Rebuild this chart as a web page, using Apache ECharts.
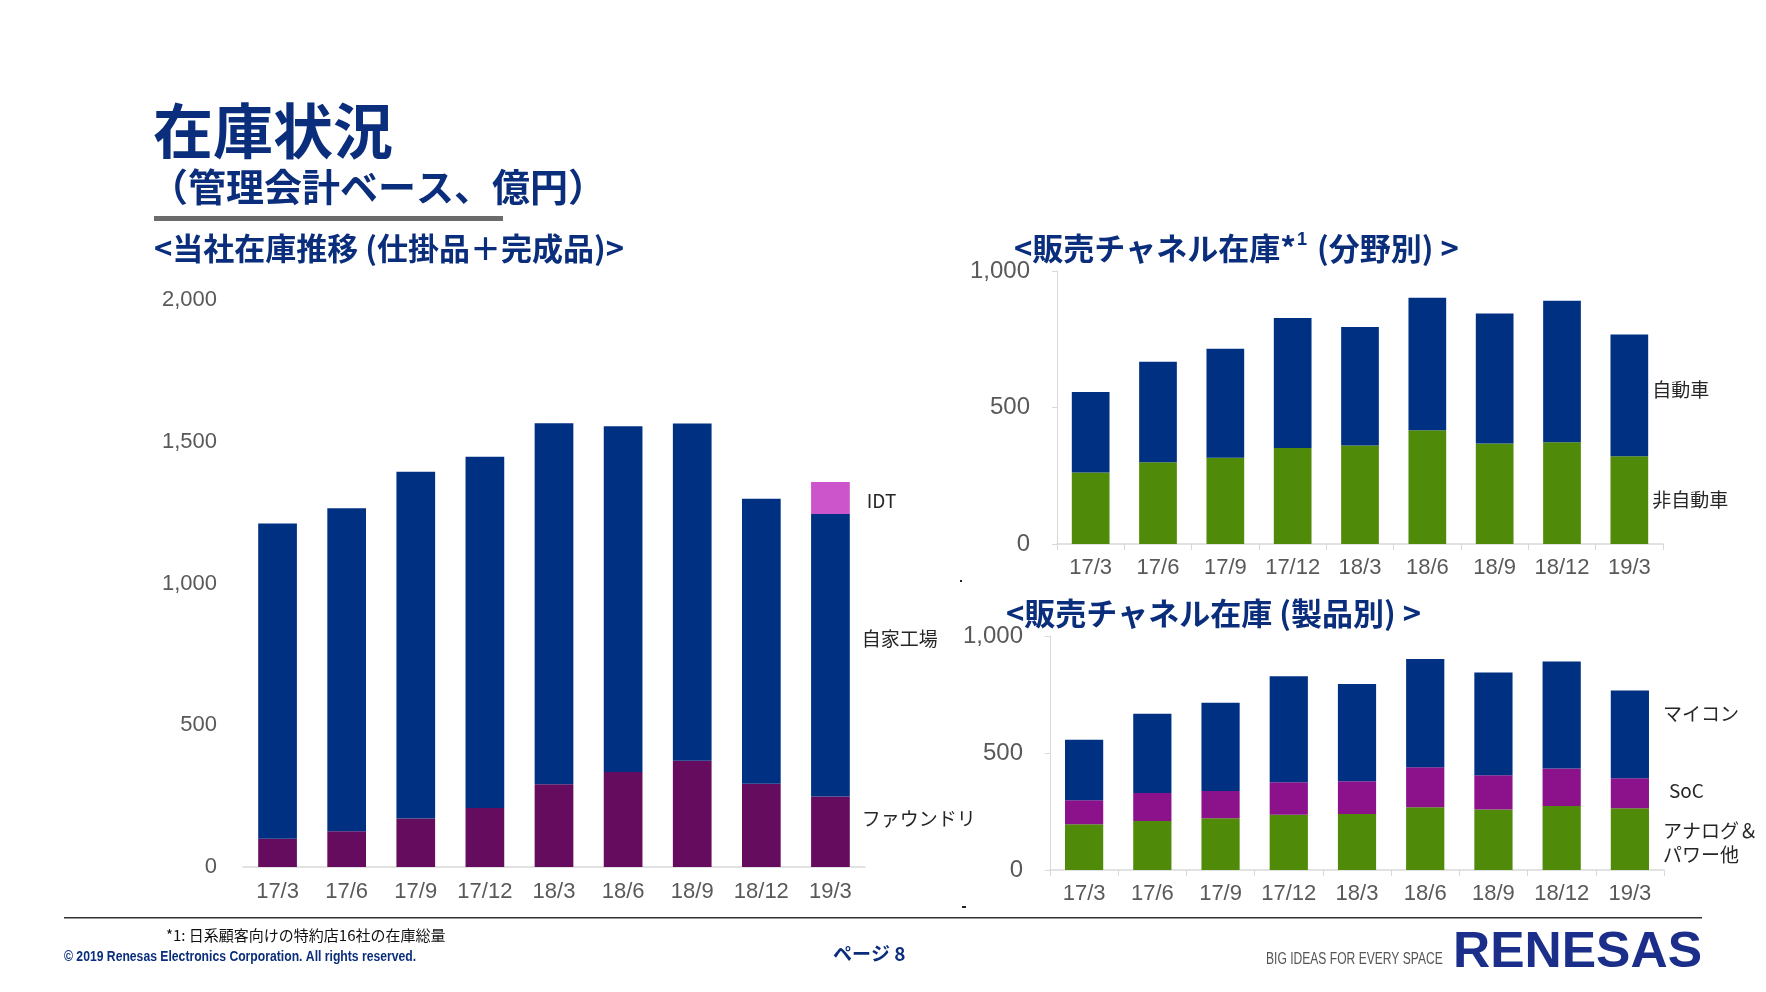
<!DOCTYPE html>
<html><head><meta charset="utf-8">
<script src="https://cdn.jsdelivr.net/npm/echarts@6/dist/echarts.min.js"></script>
<style>html,body{margin:0;padding:0;background:#fff}#c{width:1766px;height:992px}</style>
</head><body><div id="c"></div>
<script>
// ---- data ----
const categories = ['17/3','17/6','17/9','17/12','18/3','18/6','18/9','18/12','19/3'];
// 当社在庫推移
const foundry = [100,126,171,208,292,335,375,294,249];
const ownFab  = [1112,1139,1223,1239,1273,1220,1189,1005,996];
const idt     = [null,null,null,null,null,null,null,null,113];
// 販売チャネル在庫 (分野別)
const nonAuto = [262,299,316,352,361,417,368,373,321];
const auto    = [295,369,399,476,434,485,476,518,446];
// 販売チャネル在庫 (製品別)
const analog  = [195,209,221,236,239,268,259,274,264];
const soc     = [103,120,117,139,140,171,146,160,128];
const mcu     = [259,339,377,453,416,463,439,457,375];
const leftTicks = [0,500,1000,1500,2000];
const rightTicks = [0,500,1000];

const NAVY = '#003082', FOUNDRY = '#650c5e', IDTC = '#cc55cc', GREEN = '#4f8a08', SOCC = '#8b128b';
const TITLE = '#0b2e7c', AX = '#595959', LBL = '#262626';
const JP = '"Noto Sans CJK JP", "Noto Sans", sans-serif';
const LAT = '"Liberation Sans", Arial, sans-serif';
const fmt = v => Number(v).toLocaleString('en-US');

function lastLabel(text, dist, off, extra) {
  return function (arr) {
    return arr.map((v, i) => i === arr.length - 1 ? {
      value: v,
      label: Object.assign({show: true, position: 'right', distance: dist, offset: off,
        formatter: text, color: LBL, fontSize: 19, fontFamily: JP}, extra || {})
    } : v);
  };
}

const chart = echarts.init(document.getElementById('c'), null, {renderer: 'canvas'});

function yAxis(idx, max, showLine) {
  return {
    type: 'value', gridIndex: idx, min: 0, max: max, interval: 500,
    splitLine: {show: false},
    axisLine: {show: showLine, lineStyle: {color: '#d9d9d9'}},
    axisTick: {show: showLine, length: 5, lineStyle: {color: '#d9d9d9'}},
    axisLabel: {color: AX, fontSize: showLine ? 24 : 22, fontFamily: LAT, margin: showLine ? 27 : 26, formatter: fmt}
  };
}
function xAxis(idx, ticks) {
  return {
    type: 'category', gridIndex: idx, data: categories,
    axisLine: {show: true, lineStyle: {color: '#d9d9d9', width: 1.5}},
    axisTick: {show: ticks, length: 6, lineStyle: {color: '#d9d9d9'}},
    axisLabel: {color: AX, fontSize: 22, fontFamily: LAT, margin: ticks ? 13 : 14, interval: 0}
  };
}

const option = {
  animation: false,
  backgroundColor: '#ffffff',
  grid: [
    {left: 243, right: 901, top: 300, bottom: 125},
    {left: 1057, right: 103, top: 271, bottom: 448},
    {left: 1050, right: 102, top: 636, bottom: 122}
  ],
  xAxis: [xAxis(0, false), xAxis(1, true), xAxis(2, true)],
  yAxis: [yAxis(0, 2000, false), yAxis(1, 1000, true), yAxis(2, 1000, true)],
  series: [
    {name: 'ファウンドリ', type: 'bar', stack: 'a', xAxisIndex: 0, yAxisIndex: 0, barWidth: '56%',
      itemStyle: {color: FOUNDRY}, data: lastLabel('ファウンドリ', 12, [0, -13])(foundry)},
    {name: '自家工場', type: 'bar', stack: 'a', xAxisIndex: 0, yAxisIndex: 0, barWidth: '56%',
      itemStyle: {color: NAVY}, data: lastLabel('自家工場', 12, [0, -16])(ownFab)},
    {name: 'IDT', type: 'bar', stack: 'a', xAxisIndex: 0, yAxisIndex: 0, barWidth: '56%',
      itemStyle: {color: IDTC}, data: lastLabel('IDT', 17, [0, 3])(idt)},

    {name: '非自動車', type: 'bar', stack: 'b', xAxisIndex: 1, yAxisIndex: 1, barWidth: '56%',
      itemStyle: {color: GREEN}, data: lastLabel('非自動車', 4, [0, 0])(nonAuto)},
    {name: '自動車', type: 'bar', stack: 'b', xAxisIndex: 1, yAxisIndex: 1, barWidth: '56%',
      itemStyle: {color: NAVY}, data: lastLabel('自動車', 4, [0, -6])(auto)},

    {name: 'アナログ＆パワー他', type: 'bar', stack: 'c', xAxisIndex: 2, yAxisIndex: 2, barWidth: '56%',
      itemStyle: {color: GREEN}, data: lastLabel('アナログ＆\nパワー他', 14, [0, 4], {lineHeight: 24})(analog)},
    {name: 'SoC', type: 'bar', stack: 'c', xAxisIndex: 2, yAxisIndex: 2, barWidth: '56%',
      itemStyle: {color: SOCC}, data: lastLabel('SoC', 20, [0, -2])(soc)},
    {name: 'マイコン', type: 'bar', stack: 'c', xAxisIndex: 2, yAxisIndex: 2, barWidth: '56%',
      itemStyle: {color: NAVY}, data: lastLabel('マイコン', 14, [0, -21])(mcu)}
  ],
  graphic: [
    {type: 'text', x: 153, y: 131, style: {text: '在庫状況', fill: TITLE, fontSize: 60, fontWeight: 'bold', fontFamily: JP, verticalAlign: 'middle', textVerticalAlign: 'middle'}},
    {type: 'text', x: 150, y: 187, style: {text: '（管理会計ベース、億円）', fill: TITLE, fontSize: 38, fontWeight: 'bold', fontFamily: JP, verticalAlign: 'middle', textVerticalAlign: 'middle'}},
    {type: 'rect', shape: {x: 154, y: 216, width: 349, height: 5}, style: {fill: '#6b6b6b'}},
    {type: 'text', x: 154, y: 248, style: {text: '<当社在庫推移 (仕掛品＋完成品)>', fill: TITLE, fontSize: 31, fontWeight: 'bold', fontFamily: JP, verticalAlign: 'middle', textVerticalAlign: 'middle'}},
    {type: 'text', x: 1014, y: 248, style: {
      text: '{a|<販売チャネル在庫*}{s|1}{a| (分野別) >}', verticalAlign: 'middle', textVerticalAlign: 'middle',
      rich: {a: {fill: TITLE, color: TITLE, fontSize: 31, fontWeight: 'bold', fontFamily: JP},
             s: {fill: TITLE, color: TITLE, fontSize: 18, fontWeight: 'bold', fontFamily: LAT, padding: [0, 3, 15, 1]}}}},
    {type: 'text', x: 1006, y: 613, style: {text: '<販売チャネル在庫 (製品別) >', fill: TITLE, fontSize: 31, fontWeight: 'bold', fontFamily: JP, verticalAlign: 'middle', textVerticalAlign: 'middle'}},
    // specks
    {type: 'rect', shape: {x: 960, y: 580, width: 2, height: 2}, style: {fill: '#222'}},
    {type: 'rect', shape: {x: 962, y: 906, width: 4, height: 2}, style: {fill: '#222'}},
    // footer
    {type: 'rect', shape: {x: 64, y: 917, width: 1638, height: 1.5}, style: {fill: '#333'}},
    {type: 'text', x: 166, y: 935, style: {text: '*1: 日系顧客向けの特約店16社の在庫総量', fill: '#111', fontSize: 15, fontFamily: JP, verticalAlign: 'middle', textVerticalAlign: 'middle'}},
    {type: 'text', x: 64, y: 957, scaleX: 0.87, style: {text: '© 2019 Renesas Electronics Corporation. All rights reserved.', fill: '#0b2e7c', fontSize: 14, fontWeight: 'bold', fontFamily: LAT, verticalAlign: 'middle', textVerticalAlign: 'middle'}},
    {type: 'text', x: 833, y: 954, style: {text: 'ページ 8', fill: TITLE, fontSize: 19, fontWeight: 'bold', fontFamily: JP, verticalAlign: 'middle', textVerticalAlign: 'middle'}},
    {type: 'text', x: 1266, y: 960, scaleX: 0.755, style: {text: 'BIG IDEAS FOR EVERY SPACE', fill: '#555', fontSize: 16, fontFamily: LAT, verticalAlign: 'middle', textVerticalAlign: 'middle'}},
    {type: 'text', x: 1453, y: 953, scaleX: 1.03, style: {text: 'RENESAS', fill: '#1a2e8a', fontSize: 50, fontWeight: 'bold', fontFamily: LAT, verticalAlign: 'middle', textVerticalAlign: 'middle'}}
  ]
};
chart.setOption(option);
</script>
</body></html>
